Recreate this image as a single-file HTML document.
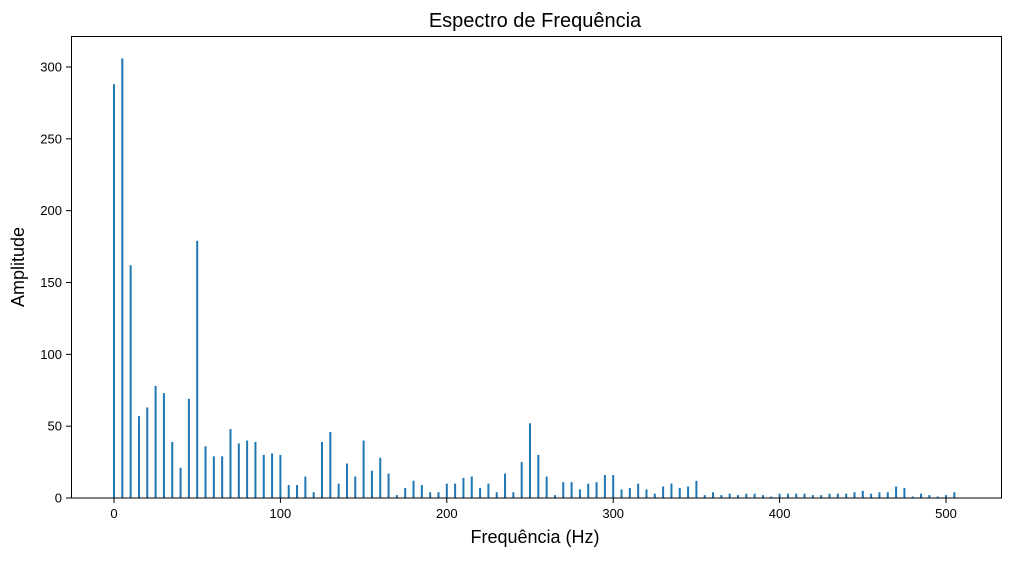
<!DOCTYPE html>
<html><head><meta charset="utf-8"><style>
body{margin:0;background:#fff;font-family:"Liberation Sans","DejaVu Sans",sans-serif;}
</style></head><body>
<svg width="1010" height="557" xmlns="http://www.w3.org/2000/svg">
<rect width="1010" height="557" fill="#fff"/>
<text x="535" y="27" font-size="20" text-anchor="middle" fill="#000">Espectro de Frequência</text>
<g id="bars"></g>
<g id="axes"></g>
<rect x="71.5" y="36.5" width="930" height="461.5" fill="none" stroke="#000" stroke-width="1"/>
<text x="535" y="543" font-size="18" text-anchor="middle">Frequência (Hz)</text>
<text transform="translate(24,267) rotate(-90)" font-size="18" text-anchor="middle">Amplitude</text>
</svg>
<script>
const freqs = [];
for (let f = 0; f <= 505; f += 5) freqs.push(f);
const amplitudes = [288,306,162,57,63,78,73,39,21,69,179,36,29,29,48,38,40,39,30,31,30,9,9,15,4,39,46,10,24,15,40,19,28,17,2,7,12,9,4,4,10,10,14,15,7,10,4,17,4,25,52,30,15,2,11,11,6,10,11,16,16,6,7,10,6,3,8,10,7,8,12,2,4,2,3,2,3,3,2,1,3,3,3,3,2,2,3,3,3,4,5,3,4,4,8,7,1,3,2,1,2,4];
const xTicks = [0,100,200,300,400,500];
const yTicks = [0,50,100,150,200,250,300];
const NS="http://www.w3.org/2000/svg";
const xs = v => 114 + v*1.664;
const ys = v => 498 - v*431/300;
const bars=document.getElementById('bars'), axes=document.getElementById('axes');
freqs.forEach((f,i)=>{
  const r=document.createElementNS(NS,'rect');
  
  
  r.setAttribute('x',xs(f)-1); r.setAttribute('width',2);
  r.setAttribute('y',ys(amplitudes[i])); r.setAttribute('height',498-ys(amplitudes[i]));
  r.setAttribute('fill','#1f77b4'); bars.appendChild(r);
});
xTicks.forEach(t=>{
  const l=document.createElementNS(NS,'line');
  
  
  l.setAttribute('x1',xs(t));l.setAttribute('x2',xs(t));l.setAttribute('y1',498);l.setAttribute('y2',503);l.setAttribute('stroke','#000');
  axes.appendChild(l);
  const tx=document.createElementNS(NS,'text');
  
  
  tx.setAttribute('x',xs(t));tx.setAttribute('y',518);tx.setAttribute('font-size','13');tx.setAttribute('text-anchor','middle');
  tx.textContent=t; axes.appendChild(tx);
});
yTicks.forEach(t=>{
  const l=document.createElementNS(NS,'line');
  
  
  l.setAttribute('x1',66);l.setAttribute('x2',71);l.setAttribute('y1',ys(t));l.setAttribute('y2',ys(t));l.setAttribute('stroke','#000');
  axes.appendChild(l);
  const tx=document.createElementNS(NS,'text');
  
  
  tx.setAttribute('x',62);tx.setAttribute('y',ys(t)+4.5);tx.setAttribute('font-size','13');tx.setAttribute('text-anchor','end');
  tx.textContent=t; axes.appendChild(tx);
});
</script>
</body></html>
